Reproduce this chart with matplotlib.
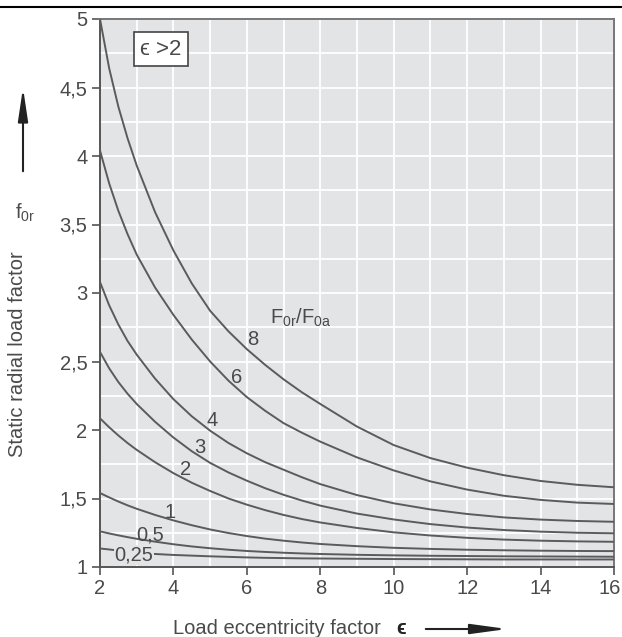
import matplotlib
matplotlib.use("Agg")
import matplotlib.pyplot as plt
from matplotlib.lines import Line2D
from matplotlib.patches import FancyArrowPatch
import matplotlib.transforms as mtransforms
import numpy as np

plt.rcParams['font.family'] = ['Liberation Sans', 'DejaVu Sans']

# x positions (load eccentricity factor) where values were read
eps = [2, 2.25, 2.5, 2.75, 3, 3.5, 4, 4.5, 5, 5.5, 6, 6.5, 7, 7.5, 8, 9, 10, 11, 12, 13, 14, 15, 16]

# f0r values for each F0r/F0a ratio
f_8   = [5.00, 4.64, 4.36, 4.13, 3.93, 3.59, 3.31, 3.07, 2.87, 2.72, 2.59, 2.475, 2.37, 2.275, 2.19,
         2.025, 1.89, 1.795, 1.725, 1.67, 1.628, 1.60, 1.582]
f_6   = [4.04, 3.80, 3.60, 3.43, 3.28, 3.04, 2.84, 2.66, 2.50, 2.36, 2.24, 2.14, 2.05, 1.98, 1.915,
         1.80, 1.705, 1.625, 1.565, 1.52, 1.49, 1.47, 1.46]
f_4   = [3.08, 2.91, 2.77, 2.65, 2.55, 2.375, 2.225, 2.10, 1.995, 1.905, 1.83, 1.765, 1.71, 1.655, 1.605,
         1.525, 1.465, 1.42, 1.387, 1.362, 1.346, 1.336, 1.33]
f_3   = [2.57, 2.45, 2.35, 2.265, 2.19, 2.06, 1.945, 1.845, 1.76, 1.69, 1.63, 1.575, 1.527, 1.485, 1.448,
         1.39, 1.347, 1.313, 1.288, 1.27, 1.258, 1.25, 1.246]
f_2   = [2.085, 2.02, 1.96, 1.905, 1.855, 1.765, 1.685, 1.615, 1.555, 1.50, 1.455, 1.415, 1.38, 1.35, 1.325,
         1.285, 1.253, 1.23, 1.213, 1.20, 1.192, 1.187, 1.184]
f_1   = [1.54, 1.508, 1.478, 1.45, 1.425, 1.38, 1.34, 1.305, 1.274, 1.248, 1.226, 1.207, 1.192, 1.179, 1.168,
         1.152, 1.14, 1.132, 1.126, 1.122, 1.119, 1.117, 1.116]
f_05  = [1.26, 1.245, 1.231, 1.218, 1.206, 1.185, 1.166, 1.15, 1.137, 1.126, 1.117, 1.11, 1.104, 1.099, 1.095,
         1.089, 1.085, 1.082, 1.08, 1.078, 1.077, 1.076, 1.075]
f_025 = [1.135, 1.128, 1.12, 1.112, 1.105, 1.095, 1.088, 1.083, 1.078, 1.074, 1.07, 1.067, 1.065, 1.063, 1.062,
         1.06, 1.058, 1.057, 1.056, 1.055, 1.055, 1.055, 1.055]

series = [f_8, f_6, f_4, f_3, f_2, f_1, f_05, f_025]
labels = ["8", "6", "4", "3", "2", "1", "0,5", "0,25"]
label_pos = [(6.17, 2.66), (5.71, 2.38), (5.05, 2.07), (4.72, 1.87),
             (4.34, 1.71), (3.91, 1.40), (3.36, 1.235), (2.92, 1.09)]

xticks = [2, 4, 6, 8, 10, 12, 14, 16]
yticks = [1, 1.5, 2, 2.5, 3, 3.5, 4, 4.5, 5]
ytick_labels = ["1", "1,5", "2", "2,5", "3", "3,5", "4", "4,5", "5"]

bg = "#e3e4e6"
curve_col = "#5b5b5b"
text_col = "#4a4a4a"
fs = 14.5

fig = plt.figure(figsize=(6.22, 6.37), dpi=100)
ax = fig.add_axes([100/622, 1 - 567/637, 514/622, 548/637])
ax.set_facecolor(bg)

for s in series:
    ax.plot(eps, s, color=curve_col, lw=1.4, solid_capstyle='butt', zorder=3)

ax.set_xlim(2, 16)
ax.set_ylim(1, 5)
ax.set_xticks(xticks)
ax.set_xticklabels([str(t) for t in xticks])
ax.set_yticks(yticks)
ax.set_yticklabels(ytick_labels)
ax.set_xticks(np.arange(2, 17, 1), minor=True)
ax.set_yticks(np.arange(1, 5.01, 0.25), minor=True)
ax.grid(which='both', color='white', lw=1.3, zorder=1)
ax.set_axisbelow(True)
ax.tick_params(which='minor', length=0)
ax.tick_params(which='major', length=6, width=1.2, color='#555555',
               labelsize=fs, labelcolor=text_col, pad=3)

# nudge last x tick label inward so it stays in the figure
lbl = ax.get_xticklabels()[-1]
lbl.set_transform(lbl.get_transform() + mtransforms.ScaledTranslation(-4/100, 0, fig.dpi_scale_trans))

for side in ['left', 'bottom']:
    ax.spines[side].set_color('#555555')
    ax.spines[side].set_linewidth(1.4)
for side in ['top', 'right']:
    ax.spines[side].set_color('#777777')
    ax.spines[side].set_linewidth(1.4)

for lab, (lx, ly) in zip(labels, label_pos):
    kw = {}
    if lab == "0,25":
        kw['bbox'] = dict(facecolor=bg, edgecolor='none', pad=0.3)
    ax.text(lx, ly, lab, fontsize=fs, color=text_col, ha='center', va='center', zorder=4, **kw)

ax.text(6.63, 2.82, r"F$_{\mathregular{0r}}$/F$_{\mathregular{0a}}$", fontsize=fs,
        color=text_col, ha='left', va='center', zorder=4)

ax.text(3.1, 4.78, "ϵ >2", fontsize=16, color=text_col, ha='left', va='center', zorder=5,
        bbox=dict(facecolor='white', edgecolor='#444444', lw=1.2, boxstyle='square,pad=0.3'))

# axis titles
fig.text(18/622, 1 - 354/637, "Static radial load factor", rotation=90, fontsize=fs,
         color=text_col, ha='center', va='center')
fig.text(25/622, 1 - 213/637, r"f$_{\mathregular{0r}}$", fontsize=fs,
         color=text_col, ha='center', va='center')
fig.text(277/622, 1 - 628/637, "Load eccentricity factor", fontsize=fs,
         color=text_col, ha='center', va='center')
fig.text(401/622, 1 - 628/637, "ϵ", fontsize=fs, fontweight='bold',
         color='#222222', ha='center', va='center')

fig.patches.append(FancyArrowPatch(
    (23/622, 1 - 174/637), (23/622, 1 - 85/637), transform=fig.transFigure,
    arrowstyle='-|>,head_length=20,head_width=3', color='#222222', lw=1.5,
    mutation_scale=1))
fig.patches.append(FancyArrowPatch(
    (423/622, 1 - 629/637), (510/622, 1 - 629/637), transform=fig.transFigure,
    arrowstyle='-|>,head_length=22,head_width=3', color='#222222', lw=1.5,
    mutation_scale=1))

fig.add_artist(Line2D([0, 1], [1 - 7/637, 1 - 7/637], transform=fig.transFigure,
                      color='black', lw=1.5))

fig.savefig("out.png", dpi=100)
